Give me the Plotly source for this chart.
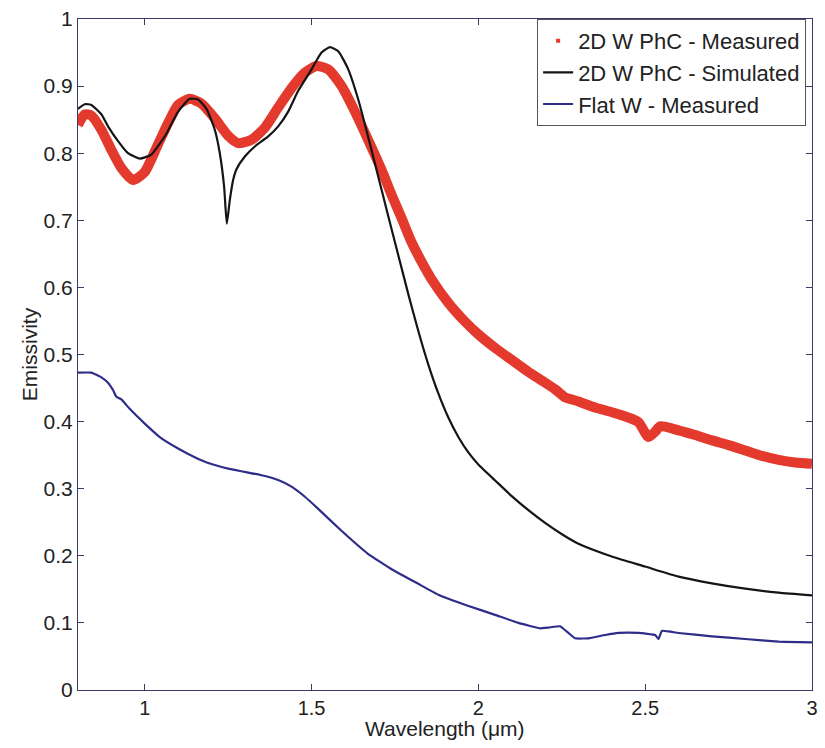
import plotly.graph_objects as go

# 2D W PhC - Measured
red_x = [0.80, 0.82, 0.84, 0.87, 0.90, 0.93, 0.965, 1.00, 1.035, 1.07, 1.10, 1.135, 1.17, 1.21, 1.25, 1.28,
         1.32, 1.36, 1.40, 1.44, 1.48, 1.515, 1.55, 1.59, 1.63, 1.675, 1.71, 1.74, 1.77, 1.80, 1.83, 1.86, 1.91, 1.96,
         2.00, 2.055, 2.10, 2.15, 2.20, 2.23, 2.25, 2.26, 2.30, 2.35, 2.40, 2.45, 2.48, 2.51, 2.53, 2.545,
         2.60, 2.65, 2.70, 2.75, 2.80, 2.85, 2.90, 2.95, 3.00]
red_y = [0.842, 0.858, 0.856, 0.835, 0.805, 0.778, 0.760, 0.772, 0.808, 0.845, 0.872, 0.881, 0.874, 0.852, 0.826, 0.815,
         0.820, 0.838, 0.868, 0.897, 0.920, 0.930, 0.925, 0.900, 0.862, 0.814, 0.775, 0.738, 0.703, 0.667, 0.638, 0.612, 0.577, 0.549,
         0.530, 0.508, 0.492, 0.474, 0.458, 0.448, 0.440, 0.436, 0.430, 0.421, 0.414, 0.406, 0.399, 0.377, 0.385, 0.393,
         0.387, 0.380, 0.372, 0.365, 0.357, 0.349, 0.343, 0.339, 0.337]

# 2D W PhC - Simulated
blk_x = [0.80, 0.82, 0.84, 0.87, 0.89, 0.92, 0.95, 0.985, 1.02, 1.065, 1.10, 1.135, 1.16, 1.185, 1.21, 1.225,
         1.238, 1.246, 1.255, 1.265, 1.275, 1.30, 1.33, 1.37, 1.40, 1.43, 1.46, 1.50, 1.53, 1.555, 1.58, 1.61,
         1.64, 1.675, 1.70, 1.73, 1.76, 1.79, 1.82, 1.85, 1.88, 1.91, 1.94, 1.97, 2.00, 2.055, 2.10, 2.15,
         2.20, 2.254, 2.30, 2.40, 2.50, 2.60, 2.70, 2.80, 2.90, 3.00]
blk_y = [0.866, 0.873, 0.872, 0.858, 0.840, 0.818, 0.800, 0.792, 0.798, 0.829, 0.862, 0.881, 0.880, 0.866, 0.835, 0.800,
         0.750, 0.695, 0.730, 0.760, 0.776, 0.795, 0.810, 0.825, 0.840, 0.862, 0.893, 0.925, 0.950, 0.958, 0.952, 0.925,
         0.880, 0.814, 0.765, 0.706, 0.648, 0.590, 0.535, 0.485, 0.442, 0.406, 0.377, 0.354, 0.336, 0.310, 0.289, 0.268,
         0.249, 0.231, 0.218, 0.199, 0.184, 0.169, 0.159, 0.151, 0.145, 0.141]

# Flat W - Measured
blu_x = [0.80, 0.84, 0.87, 0.89, 0.905, 0.915, 0.93, 0.955, 1.00, 1.045, 1.10, 1.15, 1.193, 1.25, 1.30, 1.35,
         1.40, 1.44, 1.48, 1.52, 1.588, 1.669, 1.74, 1.817, 1.88, 1.966, 2.05, 2.12, 2.183, 2.21, 2.245, 2.27, 2.29,
         2.33, 2.38, 2.42, 2.48, 2.53, 2.54, 2.55, 2.60, 2.70, 2.80, 2.90, 3.00]
blu_y = [0.473, 0.473, 0.466, 0.458, 0.447, 0.437, 0.433, 0.419, 0.397, 0.377, 0.360, 0.347, 0.338, 0.330, 0.325, 0.320,
         0.313, 0.303, 0.288, 0.270, 0.238, 0.203, 0.180, 0.159, 0.142, 0.126, 0.112, 0.100, 0.092, 0.093, 0.095, 0.085, 0.077,
         0.077, 0.082, 0.085, 0.085, 0.082, 0.076, 0.088, 0.085, 0.080, 0.076, 0.072, 0.071]

x_ticks = [1, 1.5, 2, 2.5, 3]
x_tick_labels = ["1", "1.5", "2", "2.5", "3"]
y_ticks = [0, 0.1, 0.2, 0.3, 0.4, 0.5, 0.6, 0.7, 0.8, 0.9, 1]
y_tick_labels = ["0", "0.1", "0.2", "0.3", "0.4", "0.5", "0.6", "0.7", "0.8", "0.9", "1"]

RED = "#e43a2d"
BLACK = "#151515"
BLUE = "#2e2e8a"
FRAME = "#3a3a66"
FONT = "Liberation Sans, Arial, sans-serif"

fig = go.Figure()
fig.add_trace(go.Scatter(x=red_x, y=red_y, mode="lines", line=dict(color=RED, width=10, shape="spline", smoothing=0.6),
                         showlegend=False, hoverinfo="skip"))
fig.add_trace(go.Scatter(x=[None], y=[None], mode="markers", marker=dict(color=RED, size=4, symbol="square"),
                         name="2D W PhC - Measured"))
fig.add_trace(go.Scatter(x=blk_x, y=blk_y, mode="lines", line=dict(color=BLACK, width=2.2, shape="spline", smoothing=0.5),
                         name="2D W PhC - Simulated"))
fig.add_trace(go.Scatter(x=blu_x, y=blu_y, mode="lines", line=dict(color=BLUE, width=2.2, shape="spline", smoothing=0.3),
                         name="Flat W - Measured"))

axis_common = dict(showline=True, linecolor=FRAME, linewidth=1.2, mirror="ticks", ticks="inside", ticklen=6,
                   tickcolor=FRAME, showgrid=False, zeroline=False)

fig.update_layout(
    width=825, height=748,
    margin=dict(l=78, r=7, t=18, b=58),
    paper_bgcolor="white", plot_bgcolor="white",
    font=dict(family=FONT, color="#222222"),
    xaxis=dict(range=[0.8, 3], tickvals=x_ticks, ticktext=x_tick_labels,
               tickfont=dict(family=FONT, size=20, color="#222222"), **axis_common),
    yaxis=dict(range=[0, 1], tickvals=y_ticks, ticktext=y_tick_labels,
               tickfont=dict(family=FONT, size=21, color="#222222"),
               title=dict(text="Emissivity", font=dict(family=FONT, size=21, color="#222222"), standoff=0),
               **axis_common),
    legend=dict(x=0.992, y=1.0, xanchor="right", yanchor="top", bgcolor="white",
                bordercolor="#555555", borderwidth=1, font=dict(family=FONT, size=22, color="#222222"),
                itemwidth=30, tracegroupgap=0),
    annotations=[dict(text="Wavelength (μm)", xref="paper", yref="paper", x=0.5, y=-0.057,
                      xanchor="center", yanchor="middle", showarrow=False,
                      font=dict(family=FONT, size=21, color="#222222"))],
)

fig.write_html("out.html")
